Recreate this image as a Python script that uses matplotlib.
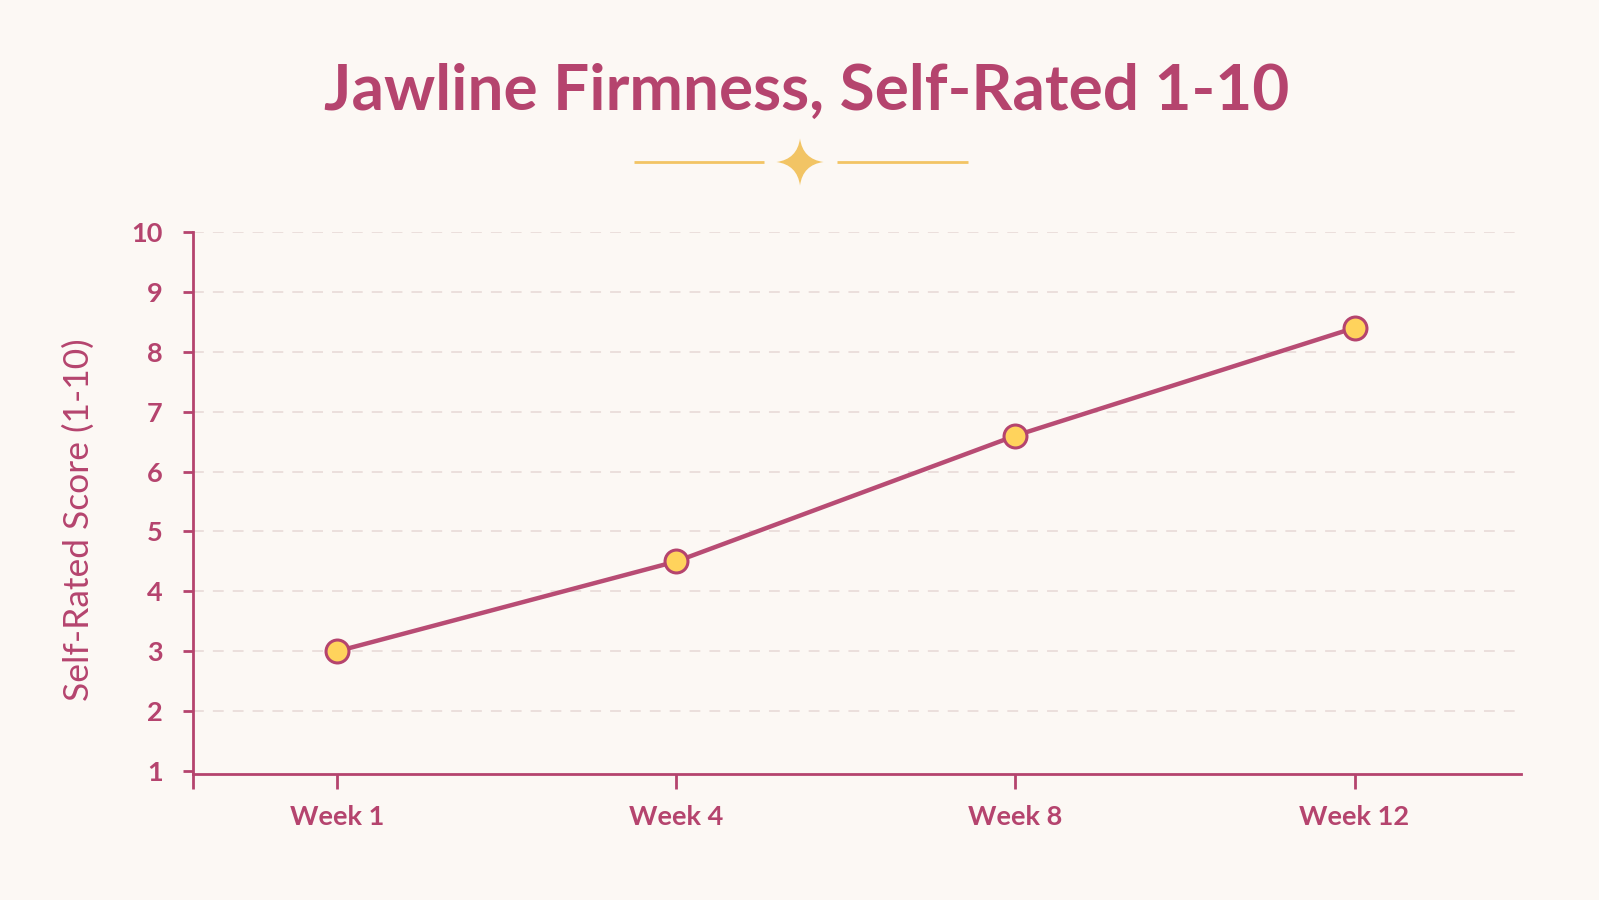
import matplotlib
matplotlib.use("Agg")
import matplotlib.pyplot as plt
from matplotlib.path import Path
from matplotlib.patches import PathPatch

weeks = ["Week 1", "Week 4", "Week 8", "Week 12"]
scores = [3.0, 4.5, 6.6, 8.4]
yticks = [1, 2, 3, 4, 5, 6, 7, 8, 9, 10]

BG = "#FCF8F4"
MAG = "#B5446E"
LINE = "#B84C74"
GOLD = "#F2C464"
FACE = "#FFD35C"
GRID = "#EADDDA"

plt.rcParams["font.family"] = ["Lato", "DejaVu Sans"]

fig = plt.figure(figsize=(15.99, 9.0), dpi=100)
fig.patch.set_facecolor(BG)

# decoration layer in pixel coordinates
deco = fig.add_axes([0, 0, 1, 1], zorder=-1)
deco.set_xlim(0, 1599)
deco.set_ylim(900, 0)
deco.axis("off")
deco.set_facecolor("none")
deco.plot([634, 764], [162, 162], color=GOLD, lw=2, solid_capstyle="butt")
deco.plot([837, 968], [162, 162], color=GOLD, lw=2, solid_capstyle="butt")
cx, cy, r, k = 800, 162, 23.5, 0.12
verts = [
    (cx, cy - r),
    (cx + r * k, cy - r * k), (cx + r, cy),
    (cx + r * k, cy + r * k), (cx, cy + r),
    (cx - r * k, cy + r * k), (cx - r, cy),
    (cx - r * k, cy - r * k), (cx, cy - r),
    (cx, cy - r),
]
codes = [Path.MOVETO,
         Path.CURVE3, Path.CURVE3,
         Path.CURVE3, Path.CURVE3,
         Path.CURVE3, Path.CURVE3,
         Path.CURVE3, Path.CURVE3,
         Path.CLOSEPOLY]
deco.add_patch(PathPatch(Path(verts, codes), facecolor=GOLD, edgecolor="none"))

fig.text(0.5045, 1 - 110 / 900, "Jawline Firmness, Self-Rated 1-10", ha="center", va="baseline",
         fontsize=46, fontweight="bold", color=MAG)

ax = fig.add_axes([0.1205, 0.14, 0.8305, 0.6022])
ax.set_facecolor("none")
x = list(range(len(weeks)))
ax.plot(x, scores, color=LINE, lw=3.2, zorder=3,
        marker="o", markersize=16.5, markerfacecolor=FACE,
        markeredgecolor=MAG, markeredgewidth=2.2, clip_on=False)
ax.set_xlim(-0.427, 3.49)
ax.set_ylim(0.95, 10)
ax.set_yticks(yticks)
ax.set_yticklabels([str(v) for v in yticks])
ax.set_xticks(x)
ax.set_xticklabels(weeks)
ax.set_xticks([-0.427], minor=True)
for y in yticks[1:]:
    ax.axhline(y, color=GRID, lw=1.3, ls=(0, (6, 5)), zorder=1)
for s in ["top", "right"]:
    ax.spines[s].set_visible(False)
for s in ["left", "bottom"]:
    ax.spines[s].set_color(MAG)
    ax.spines[s].set_linewidth(2)
ax.tick_params(axis="both", which="both", colors=MAG, width=2)
ax.tick_params(axis="y", length=7.5, pad=14, labelsize=19.5)
ax.tick_params(axis="x", which="both", length=10.5, pad=12, labelsize=19.5)
for lab in ax.get_xticklabels() + ax.get_yticklabels():
    lab.set_fontweight("bold")
    lab.set_color(MAG)
ax.set_ylabel("Self-Rated Score (1-10)", fontsize=25.5, color=MAG, va="center")
ax.yaxis.set_label_coords(-0.086, 0.47)

fig.savefig("out.png", dpi=100, facecolor=BG)
